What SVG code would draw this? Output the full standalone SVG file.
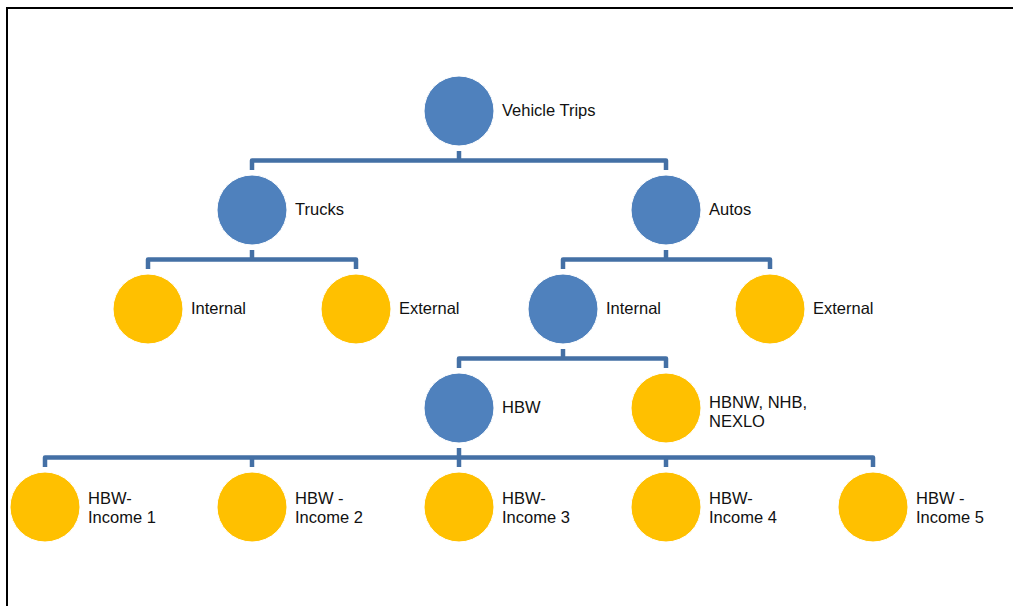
<svg xmlns="http://www.w3.org/2000/svg" width="1013" height="606" viewBox="0 0 1013 606">
<style>
.blue{fill:#4F81BD;stroke:#fff;stroke-width:1}
.yel{fill:#FFC000;stroke:#fff;stroke-width:1}
.lbl{font-family:"Liberation Sans",Arial,sans-serif;font-size:16.5px;fill:#111}
.conn{fill:none;stroke:#4470A5;stroke-width:4.5;stroke-linejoin:round;stroke-linecap:butt}
</style>
<rect width="1013" height="606" fill="#fff"/>
<path d="M7 606 V8 H1013" fill="none" stroke="#000" stroke-width="2"/>
<g id="connectors" class="conn">
<path d="M459 151 V160.5"/><path d="M252 170 V160.5 H666 V170"/>
<path d="M252 250 V259.5"/><path d="M148 269 V259.5 H356 V269"/>
<path d="M666 250 V259.5"/><path d="M563 269 V259.5 H770 V269"/>
<path d="M563 349 V358.5"/><path d="M459 368 V358.5 H666 V368"/>
<path d="M459 448 V457.5"/><path d="M45 467 V457.5 H873 V467"/>
<path d="M252 457.5 V467"/><path d="M459 457.5 V467"/><path d="M666 457.5 V467"/>
</g>
<g id="vehicle-trips"><circle class="blue" cx="459" cy="111" r="35"/><text class="lbl" x="502" y="116">Vehicle Trips</text></g>
<g id="trucks"><circle class="blue" cx="252" cy="210" r="35"/><text class="lbl" x="295" y="215">Trucks</text></g>
<g id="autos"><circle class="blue" cx="666" cy="210" r="35"/><text class="lbl" x="709" y="215">Autos</text></g>
<g id="trucks-internal"><circle class="yel" cx="148" cy="309" r="35"/><text class="lbl" x="191" y="314">Internal</text></g>
<g id="trucks-external"><circle class="yel" cx="356" cy="309" r="35"/><text class="lbl" x="399" y="314">External</text></g>
<g id="autos-internal"><circle class="blue" cx="563" cy="309" r="35"/><text class="lbl" x="606" y="314">Internal</text></g>
<g id="autos-external"><circle class="yel" cx="770" cy="309" r="35"/><text class="lbl" x="813" y="314">External</text></g>
<g id="hbw"><circle class="blue" cx="459" cy="408" r="35"/><text class="lbl" x="502" y="413">HBW</text></g>
<g id="hbnw"><circle class="yel" cx="666" cy="408" r="35"/><text class="lbl" x="709" y="408">HBNW, NHB,</text><text class="lbl" x="709" y="427">NEXLO</text></g>
<g id="income1"><circle class="yel" cx="45" cy="507" r="35"/><text class="lbl" x="88" y="503.5">HBW-</text><text class="lbl" x="88" y="522.5">Income 1</text></g>
<g id="income2"><circle class="yel" cx="252" cy="507" r="35"/><text class="lbl" x="295" y="503.5">HBW -</text><text class="lbl" x="295" y="522.5">Income 2</text></g>
<g id="income3"><circle class="yel" cx="459" cy="507" r="35"/><text class="lbl" x="502" y="503.5">HBW-</text><text class="lbl" x="502" y="522.5">Income 3</text></g>
<g id="income4"><circle class="yel" cx="666" cy="507" r="35"/><text class="lbl" x="709" y="503.5">HBW-</text><text class="lbl" x="709" y="522.5">Income 4</text></g>
<g id="income5"><circle class="yel" cx="873" cy="507" r="35"/><text class="lbl" x="916" y="503.5">HBW -</text><text class="lbl" x="916" y="522.5">Income 5</text></g>
</svg>
